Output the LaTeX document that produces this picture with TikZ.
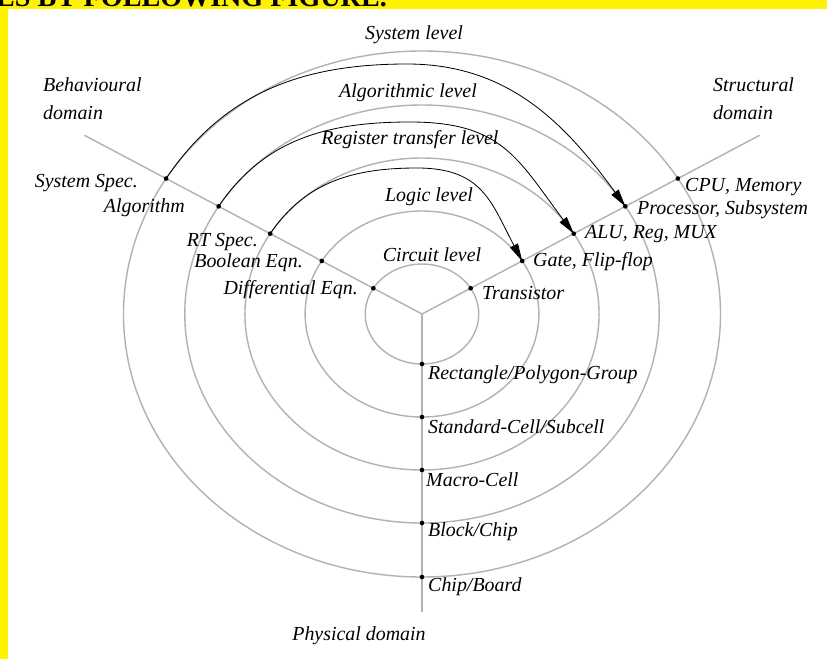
\documentclass[tikz,border=0pt]{standalone}
\usepackage{fontspec}
\setmainfont{Liberation Serif}
\usetikzlibrary{arrows.meta}

\begin{document}
\begin{tikzpicture}[x=0.03cm,y=0.03cm,
  ring/.style={draw=gray!60,line width=1.2pt},
  axis/.style={draw=gray!60,line width=1.2pt},
  dot/.style={circle,fill=black,inner sep=0pt,minimum size=4pt},
  lbl/.style={font=\fontsize{17}{20}\selectfont\itshape,inner sep=0pt},
  flow/.style={draw=black,line width=0.7pt,-{Triangle[length=15pt,width=7.5pt]}}]
  % page and yellow frame
  \useasboundingbox (-422,-345) rectangle (405,314);
  \fill[yellow] (-422,-345) rectangle (405,314);
  \fill[white] (-414,-345) rectangle (405,305);
  \begin{scope}
    \clip (-422,305) rectangle (405,314);
    \node[anchor=base west,inner sep=0pt,font=\fontsize{24}{26}\selectfont\bfseries] (title) at (-426,307.5) {ES BY FOLLOWING FIGURE.};
  \end{scope}
  % rings, squeezed a bit in y
  \coordinate (c) at (0,0);
  \begin{scope}[xscale=1.135]
    \foreach \r/\n in {50/1,103/2,156/3,209/4,263/5} {
      \draw[ring] (c) circle (\r);
      \coordinate (b\n) at (149:\r);
      \coordinate (s\n) at (31:\r);
      \coordinate (p\n) at (270:\r);
    }
    \coordinate (bend) at (149:347);
    \coordinate (send) at (31:347);
    \coordinate (pend) at (270:298);
  \end{scope}
  \draw[axis] (c) -- (bend);
  \draw[axis] (c) -- (send);
  \draw[axis] (c) -- (pend);
  \foreach \n in {1,...,5} {
    \node[dot] (db\n) at (b\n) {};
    \node[dot] (ds\n) at (s\n) {};
    \node[dot] (dp\n) at (p\n) {};
  }
  % arrows between the domains
  \coordinate (t1) at (-15,250);
  \coordinate (t2) at (-12,192);
  \coordinate (t3) at (-5,146);
  \draw[flow] (b5) to[out=56,in=180] (t1) to[out=0,in=126] (s4);
  \draw[flow] (b4) to[out=56,in=180] (t2) to[out=0,in=127,looseness=1.2] (s3);
  \draw[flow] (b3) to[out=56,in=180] (t3) to[out=0,in=118,looseness=1.2] (s2);
  % level names
  \node[lbl] (syslev) at (-8,279) {System level};
  \node[lbl] (alglev) at (-14,221) {Algorithmic level};
  \node[lbl] (rtlev) at (-12,174) {Register transfer level};
  \node[lbl] (loglev) at (7,117) {Logic level};
  \node[lbl] (cirlev) at (10,59) {Circuit level};
  % domains
  \node[lbl,anchor=west] (beh1) at (-379,229) {Behavioural};
  \node[lbl,anchor=west] (beh2) at (-379,201) {domain};
  \node[lbl,anchor=west] (str1) at (291,229) {Structural};
  \node[lbl,anchor=west] (str2) at (291,201) {domain};
  \node[lbl] (phys) at (-63,-322) {Physical domain};
  % behavioural side
  \node[lbl,anchor=east] (sysspec) at (-284,131) {System Spec.};
  \node[lbl,anchor=east] (algo) at (-237,106) {Algorithm};
  \node[lbl,anchor=east] (rtspec) at (-164,72) {RT Spec.};
  \node[lbl,anchor=east] (bool) at (-119,51) {Boolean Eqn.};
  \node[lbl,anchor=east] (diff) at (-64,24) {Differential Eqn.};
  % structural side
  \node[lbl,anchor=west] (trans) at (60,21) {Transistor};
  \node[lbl,anchor=west] (gate) at (111,52) {Gate, Flip-flop};
  \node[lbl,anchor=west] (alu) at (163,80) {ALU, Reg, MUX};
  \node[lbl,anchor=west] (proc) at (215,104) {Processor, Subsystem};
  \node[lbl,anchor=west] (cpu) at (263,127) {CPU, Memory};
  % physical side
  \node[lbl,anchor=west] (rect) at (6,-61) {Rectangle/Polygon-Group};
  \node[lbl,anchor=west] (stdcell) at (6,-113) {Standard-Cell/Subcell};
  \node[lbl,anchor=west] (macro) at (4,-166) {Macro-Cell};
  \node[lbl,anchor=west] (block) at (6,-218) {Block/Chip};
  \node[lbl,anchor=west] (board) at (6,-273) {Chip/Board};
\end{tikzpicture}
\end{document}
